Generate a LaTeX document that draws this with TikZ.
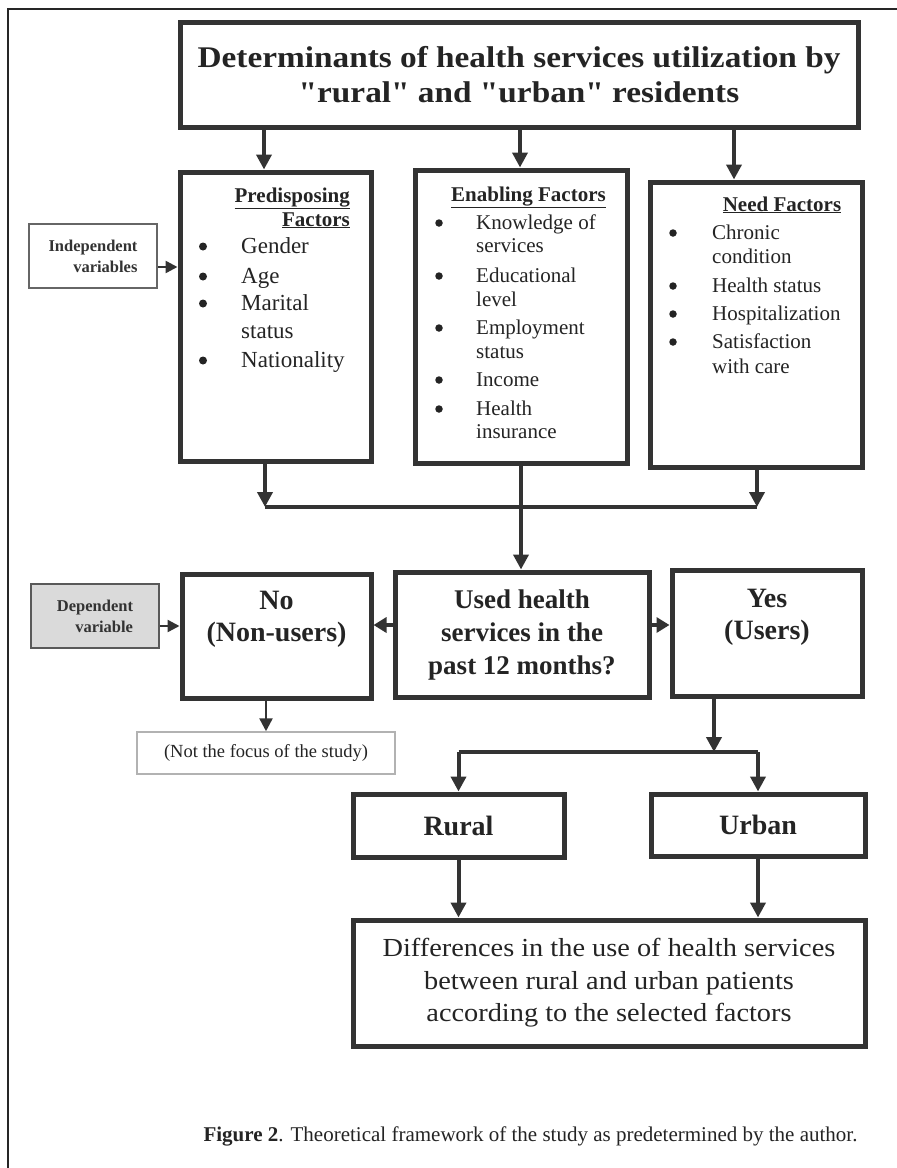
\documentclass[tikz,border=0pt]{standalone}
\usepackage{fontspec}
\setmainfont{Liberation Serif}
\newfontfamily\widefont[FakeStretch=1.11]{Liberation Serif}
\newfontfamily\diffont[FakeStretch=1.09]{Liberation Serif}
\usetikzlibrary{arrows.meta}
\definecolor{ink}{HTML}{242424}
\definecolor{lin}{HTML}{333333}
\definecolor{depfill}{HTML}{DADADA}
\tikzset{
  thickbox/.style={draw=lin, line width=5pt, inner sep=0pt, text=ink},
  conn/.style={draw=lin, line width=4pt, -{Triangle[length=15pt,width=15pt]}},
  plain/.style={draw=lin, line width=4pt},
  smallconn/.style={draw=lin, line width=2.5pt, -{Triangle[length=12pt,width=12pt]}},
  head/.style={font=\bfseries\fontsize{21}{24}\selectfont, text=ink, inner sep=0pt},
  itemA/.style={font=\fontsize{23}{27}\selectfont, text=ink, inner sep=0pt, anchor=base west},
  itemB/.style={font=\fontsize{21}{25}\selectfont, text=ink, inner sep=0pt, anchor=base west},
  bul/.style={circle, fill=ink, inner sep=0pt, minimum size=7.5pt},
  bigbold/.style={font=\bfseries\fontsize{28}{32}\selectfont, text=ink, align=center, inner sep=0pt},
  varbox/.style={draw=black!60, line width=2pt, inner sep=0pt, font=\bfseries\fontsize{16.5}{21}\selectfont, text=black!80, align=right}
}
\begin{document}
\begin{tikzpicture}[x=1pt,y=-1pt]
\useasboundingbox (0,0) rectangle (897,1168);
\fill[white] (0,0) rectangle (897,1168);
% page frame
\draw[black!85, line width=2pt] (897,9) -- (8,9) -- (8,1168);

% top box
\node[thickbox, minimum width=678pt, minimum height=105pt, align=center,
      font=\widefont\bfseries\fontsize{30}{35}\selectfont] (top) at (519,74.5)
  {Determinants of health services utilization by\\"rural" and "urban" residents};

% factor boxes
\node[thickbox, minimum width=191pt, minimum height=289pt] (pred) at (275.5,316.5) {};
\node[thickbox, minimum width=212pt, minimum height=293pt] (enab) at (521,316.5) {};
\node[thickbox, minimum width=212pt, minimum height=285pt] (need) at (756,324.5) {};

% predisposing content
\node[head, anchor=base east] (ph1) at (350,202) {\underline{Predisposing}};
\node[head, anchor=base east] (ph2) at (350,226) {\underline{Factors}};
\foreach \t/\yy [count=\i] in {Gender/253, Age/283, Marital/310, status/338, Nationality/367}
  \node[itemA] (pt\i) at (241,\yy) {\t};
\foreach \yy [count=\i] in {253,283,310,367}
  \node[bul, minimum size=8pt] (pb\i) at (203,\yy-6.5) {};

% enabling content
\node[head, anchor=base] (eh) at (528.5,201) {\underline{Enabling Factors}};
\foreach \t/\yy [count=\i] in {Knowledge of/229, services/252, Educational/282, level/306, Employment/334, status/358, Income/386, Health/415, insurance/438}
  \node[itemB] (et\i) at (476,\yy) {\t};
\foreach \yy [count=\i] in {229,282,334,386,415}
  \node[bul] (eb\i) at (439,\yy-6) {};

% need content
\node[head, anchor=base] (nh) at (782,211) {\underline{Need Factors}};
\foreach \t/\yy [count=\i] in {Chronic/239, condition/263, Health status/292, Hospitalization/320, Satisfaction/348, with care/373}
  \node[itemB] (nt\i) at (712,\yy) {\t};
\foreach \yy [count=\i] in {239,292,320,348}
  \node[bul] (nb\i) at (673,\yy-6) {};

% variable boxes
\node[varbox, minimum width=128pt, minimum height=64pt] (indep) at (93,256) {Independent\\variables};
\node[varbox, fill=depfill, draw=black!65, line width=1.6pt, minimum width=128pt, minimum height=64pt] (dep) at (95,616) {Dependent\\variable};

% middle row
\node[thickbox, minimum width=254pt, minimum height=125pt, font=\bfseries\fontsize{27}{33}\selectfont, align=center] (used) at (522,634.5)
  {Used health\\services in the\\past 12 months?};
\node[thickbox, minimum width=189pt, minimum height=124pt] (no) at (276.5,636) {};
\node[bigbold] (notext) at (276.5,619) {No\\(Non-users)};
\node[thickbox, minimum width=190pt, minimum height=126pt] (yes) at (767,633) {};
\node[bigbold] (yestext) at (767,617) {Yes\\(Users)};

\node[draw=black!30, line width=1.5pt, minimum width=258pt, minimum height=42pt, inner sep=0pt,
      font=\fontsize{18.5}{22}\selectfont, text=ink] (focus) at (266,753) {(Not the focus of the study)};

% rural / urban
\node[thickbox, minimum width=211pt, minimum height=63pt, font=\bfseries\fontsize{28}{32}\selectfont] (rural) at (458.5,825.5) {Rural};
\node[thickbox, minimum width=214pt, minimum height=62pt, font=\bfseries\fontsize{28}{32}\selectfont] (urban) at (758,825) {Urban};

\node[thickbox, minimum width=512pt, minimum height=126pt, align=center,
      font=\diffont\fontsize{26}{32.5}\selectfont] (diff) at (609,983)
  {Differences in the use of health services\\between rural and urban patients\\according to the selected factors};

% caption
\node[anchor=base, inner sep=0pt, text=ink, font=\fontsize{21}{25}\selectfont] (cap) at (530.5,1141)
  {\textbf{Figure 2}. Theoretical framework of the study as predetermined by the author.};

% coordinates for connectors
\coordinate (xP) at (264,0);
\coordinate (xE) at (520,0);
\coordinate (xN) at (734,0);
\coordinate (xPb) at (265,0);
\coordinate (xNb) at (757,0);
\coordinate (xEb) at (521,0);
\coordinate (bar) at (0,507);
\coordinate (yArr) at (0,625);
\coordinate (yI) at (0,267);
\coordinate (yD) at (0,626);
\coordinate (xNo) at (266,0);
\coordinate (xY) at (714,0);
\coordinate (bar2) at (0,752);
\coordinate (xR) at (458.5,0);
\coordinate (xU) at (758,0);

% connectors
\draw[conn] (xP |- top.south) -- (xP |- pred.north);
\draw[conn] (xE |- top.south) -- (xE |- enab.north);
\draw[conn] (xN |- top.south) -- (xN |- need.north);
\draw[conn] (xPb |- pred.south) -- (xPb |- bar);
\draw[conn] (xNb |- need.south) -- (xNb |- bar);
\draw[plain] (xPb |- bar) -- (xNb |- bar);
\draw[conn] (xEb |- enab.south) -- (xEb |- used.north);

\draw[conn, -{Triangle[length=13pt,width=15pt]}] (used.west |- yArr) -- (no.east |- yArr);
\draw[conn, -{Triangle[length=13pt,width=15pt]}] (used.east |- yArr) -- (yes.west |- yArr);

\draw[smallconn] (indep.east |- yI) -- (pred.west |- yI);
\draw[smallconn] (dep.east |- yD) -- (no.west |- yD);
\draw[smallconn, -{Triangle[length=13pt,width=13pt]}] (xNo |- no.south) -- (xNo |- focus.north);

\draw[conn] (xY |- yes.south) -- (xY |- bar2);
\draw[plain] (xR |- bar2) -- (xU |- bar2);
\draw[conn] (xR |- bar2) -- (xR |- rural.north);
\draw[conn] (xU |- bar2) -- (xU |- urban.north);
\draw[conn] (xR |- rural.south) -- (xR |- diff.north);
\draw[conn] (xU |- urban.south) -- (xU |- diff.north);
\end{tikzpicture}
\end{document}
